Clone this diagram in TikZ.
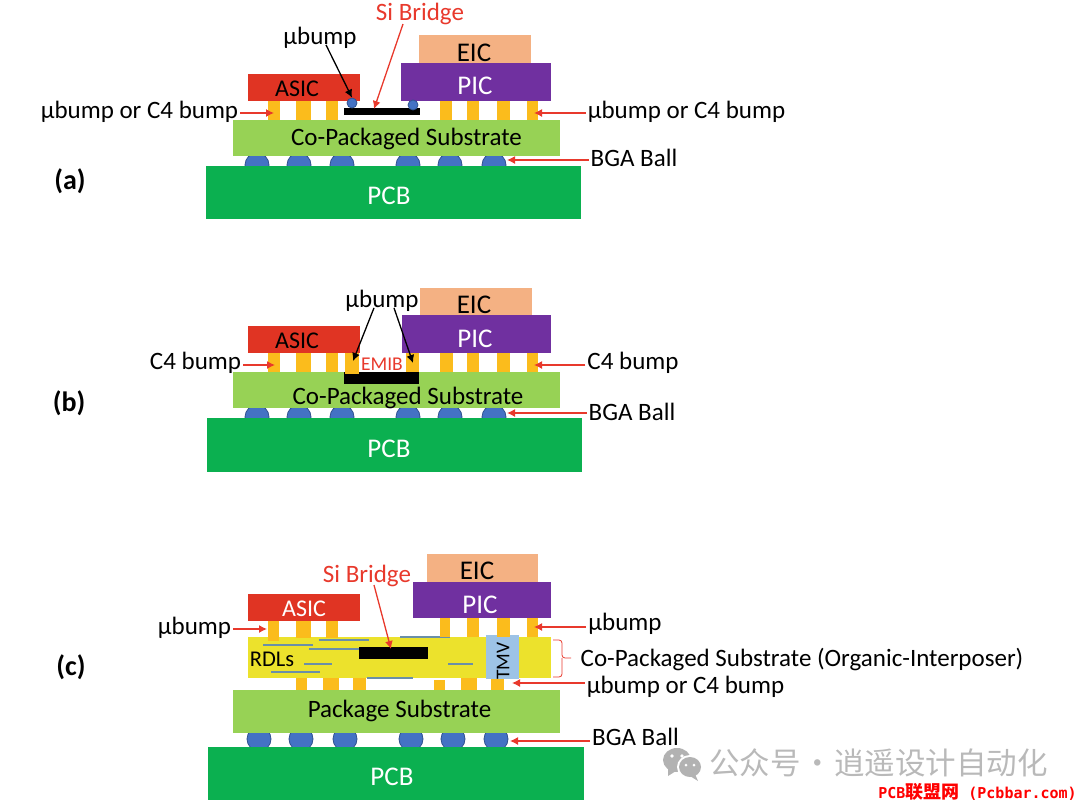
\documentclass[tikz,border=0pt]{standalone}
\usepackage{fontspec}
\usepackage{xcolor}
\usepackage{tikz}
\usetikzlibrary{arrows.meta, positioning}
\setmainfont{Carlito}
\newfontfamily\cjk{Noto Sans CJK SC}
\newfontfamily\wmmono{DejaVu Sans Mono}
\definecolor{asicred}{HTML}{E03423}
\definecolor{picpurple}{HTML}{7030A0}
\definecolor{eicpeach}{HTML}{F4B183}
\definecolor{subgreen}{HTML}{97D255}
\definecolor{pcbgreen}{HTML}{0BB050}
\definecolor{bumpgold}{HTML}{FBBC1C}
\definecolor{ballblue}{HTML}{4472C4}
\definecolor{balledge}{HTML}{2F528F}
\definecolor{rdlyellow}{HTML}{ECE22C}
\definecolor{tmvblue}{HTML}{9DC3E6}
\definecolor{rdlline}{HTML}{6A8FA8}
\definecolor{labelred}{HTML}{E8392C}

\begin{document}
\begin{tikzpicture}[
        x=1pt, y=-1pt,
        layer/.style={rectangle, inner sep=0pt},
        bumpbar/.style={rectangle, inner sep=0pt, fill=bumpgold, minimum height=#1},
        ball/.style={circle, inner sep=0pt, minimum size=24, fill=ballblue, draw=balledge, line width=0.8pt},
        microball/.style={circle, inner sep=0pt, minimum size=10, fill=ballblue, draw=balledge, line width=0.8pt},
        lbl/.style={inner sep=2pt, yshift=-2pt, font=\fontsize{25}{30}\selectfont},
        redlbl/.style={lbl, text=labelred},
        chiplbl/.style={lbl, font=\fontsize{27}{32}\selectfont},
        asiclbl/.style={lbl, font=\fontsize{24}{29}\selectfont},
        smalllbl/.style={lbl, font=\fontsize{19.5}{23}\selectfont, inner sep=0pt},
        panel/.style={inner sep=0pt, font=\fontsize{28}{32}\selectfont\bfseries},
        redarrow/.style={-{Latex[length=8pt,width=8pt]}, labelred, line width=1.3pt},
        blackarrow/.style={-{Latex[length=8pt,width=8pt]}, black, line width=1.3pt},
        rdl/.style={rdlline, line width=1.1pt}
    ]
    \useasboundingbox (0,0) rectangle (1080,806);

    % Panel (a)
    \foreach \n/\x in {1/257, 2/299, 3/342, 4/408, 5/450, 6/494}
        \node[ball] (ballA\n) at (\x,165) {};
    \node[layer, fill=pcbgreen, minimum width=375, minimum height=53] (pcbA) at (393.5,192.5) {};
    \node[layer, fill=subgreen, minimum width=327, minimum height=36] (subA) at (396.5,138) {};
    \foreach \n/\x/\w in {1/274/12, 2/303.5/15, 3/332/12, 4/446/12, 5/473/12, 6/503.5/13, 7/532.5/11}
        \node[bumpbar=19, minimum width=\w] (bumpA\n) at (\x,110.5) {};
    \node[layer, fill=asicred, minimum width=112, minimum height=27] (asicA) at (304,87.5) {};
    \node[layer, fill=picpurple, minimum width=150, minimum height=38] (picA) at (476,82) {};
    \node[layer, fill=eicpeach, minimum width=112, minimum height=28] (eicA) at (475,49) {};
    \node[layer, fill=black, minimum width=76, minimum height=7] (bridgeA) at (382,111.5) {};
    \node[microball] (ubumpA1) at (352,103) {};
    \node[microball] (ubumpA2) at (413,105) {};
    \node[asiclbl] (asicTextA) at (297,87) {ASIC};
    \node[chiplbl, text=white] (picTextA) at (475,84) {PIC};
    \node[chiplbl] (eicTextA) at (474,51) {EIC};
    \node[chiplbl, text=white] (pcbTextA) at (389,194) {PCB};
    \node[lbl] (subTextA) at (406.5,137) {Co-Packaged Substrate};
    \node[panel] (tagA) at (70,181) {(a)};
    \node[redlbl] (siA) at (420,12) {Si Bridge};
    \node[lbl] (ubumpLblA) at (320,36) {µbump};
    \node[lbl] (orLeftA) at (139.5,110) {µbump or C4 bump};
    \node[lbl] (orRightA) at (686.5,110) {µbump or C4 bump};
    \node[lbl] (bgaA) at (634,155.5) {BGA Ball};
    \coordinate (tipA1) at (274,113);
    \coordinate (tipA2) at (534,113);
    \coordinate (tipA3) at (507,160);
    \coordinate (tipA4) at (374,109);
    \draw[redarrow] (orLeftA.east |- tipA1) -- (tipA1);
    \draw[redarrow] (orRightA.west |- tipA2) -- (tipA2);
    \draw[redarrow] (bgaA.west |- tipA3) -- (tipA3);
    \draw[redarrow] (siA.south) ++(-17,-3) -- (tipA4);
    \draw[blackarrow] (ubumpLblA.south) ++(6,-6) -- (ubumpA1.north);

    % Panel (b)
    \foreach \n/\x in {1/257, 2/299, 3/342, 4/408, 5/450, 6/494}
        \node[ball] (ballB\n) at (\x,417) {};
    \node[layer, fill=pcbgreen, minimum width=375, minimum height=54] (pcbB) at (394,445) {};
    \node[layer, fill=subgreen, minimum width=327, minimum height=36] (subB) at (396.5,390) {};
    \foreach \n/\x/\w in {1/274/12, 2/303.5/15, 3/332/12, 4/446/13, 5/473/12, 6/503.5/13, 7/532.5/11}
        \node[bumpbar=19, minimum width=\w] (bumpB\n) at (\x,362.5) {};
    \node[layer, fill=black, minimum width=75, minimum height=12] (emibB) at (381.5,378) {};
    \node[bumpbar=22, minimum width=14] (ubumpB1) at (352,363) {};
    \node[bumpbar=19, minimum width=13] (ubumpB2) at (412.5,362.5) {};
    \node[layer, fill=asicred, minimum width=112, minimum height=27] (asicB) at (304,339.5) {};
    \node[layer, fill=picpurple, minimum width=149, minimum height=38] (picB) at (476.5,334) {};
    \node[layer, fill=eicpeach, minimum width=112, minimum height=27] (eicB) at (476,301.5) {};
    \node[asiclbl] (asicTextB) at (297,339) {ASIC};
    \node[chiplbl, text=white] (picTextB) at (475,337) {PIC};
    \node[chiplbl] (eicTextB) at (474,303) {EIC};
    \node[chiplbl, text=white] (pcbTextB) at (389,447) {PCB};
    \node[lbl] (subTextB) at (408,396) {Co-Packaged Substrate};
    \node[panel] (tagB) at (69,403) {(b)};
    \node[smalllbl, text=labelred] (emibLblB) at (382,362) {EMIB};
    \node[lbl] (ubumpLblB) at (382,299) {µbump};
    \node[lbl] (c4LeftB) at (195.5,361) {C4 bump};
    \node[lbl] (c4RightB) at (633,361) {C4 bump};
    \node[lbl] (bgaB) at (632,410) {BGA Ball};
    \coordinate (tipB1) at (275,365);
    \coordinate (tipB2) at (534,365);
    \coordinate (tipB3) at (507,413);
    \coordinate (tipB4) at (353,361);
    \coordinate (tipB5) at (413,363);
    \draw[redarrow] (c4LeftB.east |- tipB1) -- (tipB1);
    \draw[redarrow] (c4RightB.west |- tipB2) -- (tipB2);
    \draw[redarrow] (bgaB.west |- tipB3) -- (tipB3);
    \draw[blackarrow] (ubumpLblB.south) ++(-8,-6) -- (tipB4);
    \draw[blackarrow] (ubumpLblB.south) ++(12,-6) -- (tipB5);

    % Panel (c)
    \foreach \n/\x in {1/259, 2/301, 3/345, 4/411, 5/453, 6/496}
        \node[ball] (ballC\n) at (\x,739) {};
    \node[layer, fill=pcbgreen, minimum width=376, minimum height=53] (pcbC) at (396,773.5) {};
    \node[layer, fill=subgreen, minimum width=327, minimum height=43] (subC) at (396.5,711.5) {};
    \foreach \n/\x/\w/\y/\h in {1/301.5/11/683.5/13, 2/331/16/682.5/15, 3/359.5/13/682.5/15, 4/439.5/11/685/10, 5/469/16/683.5/13, 6/497.5/13/684/12}
        \node[bumpbar=\h, minimum width=\w] (lowC\n) at (\x,\y) {};
    \node[layer, fill=rdlyellow, minimum width=303, minimum height=41] (rdlC) at (399.5,657.5) {};
    \node[lbl, font=\fontsize{22.5}{27}\selectfont] (rdlLblC) at (272,657) {RDLs};
    \draw[rdl] (263,645) -- (313,645);
    \draw[rdl] (319,640) -- (369,640);
    \draw[rdl] (309,649) -- (359,649);
    \draw[rdl] (400,637) -- (450,637);
    \draw[rdl] (304,664) -- (332,664);
    \draw[rdl] (271,672) -- (320,672);
    \draw[rdl] (448,664) -- (473,664);
    \draw[rdl] (367,678) -- (413,678);
    \node[layer, fill=black, minimum width=69, minimum height=12] (bridgeC) at (393.5,653) {};
    \node[layer, fill=tmvblue, minimum width=33, minimum height=44] (tmvC) at (502.5,657) {};
    \node[smalllbl, rotate=90] (tmvLblC) at (503,659) {TMV};
    \foreach \n/\x/\w/\y/\h in {1/273.5/11/631/20, 2/303.5/15/629.5/17, 3/332/12/629.5/17, 4/445/10/627.5/19, 5/473/12/627.5/19, 6/503.5/13/627.5/19, 7/532.5/11/627.5/19}
        \node[bumpbar=\h, minimum width=\w] (topC\n) at (\x,\y) {};
    \node[layer, fill=asicred, minimum width=112, minimum height=27] (asicC) at (304,607.5) {};
    \node[layer, fill=picpurple, minimum width=138, minimum height=36] (picC) at (482,600) {};
    \node[layer, fill=eicpeach, minimum width=111, minimum height=28] (eicC) at (482.5,568) {};
    \node[asiclbl, text=white] (asicTextC) at (304,607) {ASIC};
    \node[chiplbl, text=white] (picTextC) at (480,603) {PIC};
    \node[chiplbl] (eicTextC) at (477,569) {EIC};
    \node[chiplbl, text=white] (pcbTextC) at (392,775) {PCB};
    \node[lbl] (pkgTextC) at (399.5,709) {Package Substrate};
    \node[panel] (tagC) at (71,667) {(c)};
    \node[redlbl] (siC) at (367,574) {Si Bridge};
    \node[lbl] (ubumpLeftC) at (194.5,626) {µbump};
    \node[lbl] (ubumpRightC) at (625,622) {µbump};
    \node[lbl] (orC) at (685.5,685) {µbump or C4 bump};
    \node[lbl] (interC) at (802,657) {Co-Packaged Substrate (Organic-Interposer)};
    \node[lbl] (bgaC) at (635.5,735) {BGA Ball};
    \coordinate (tipC1) at (267,629);
    \coordinate (tipC2) at (534,627);
    \coordinate (tipC3) at (512,683);
    \coordinate (tipC4) at (510,741);
    \coordinate (tipC5) at (391,649);
    \draw[redarrow] (ubumpLeftC.east |- tipC1) -- (tipC1);
    \draw[redarrow] (ubumpRightC.west |- tipC2) -- (tipC2);
    \draw[redarrow] (orC.west |- tipC3) -- (tipC3);
    \draw[redarrow] (bgaC.west |- tipC4) -- (tipC4);
    \draw[redarrow] (siC.south) ++(7,-4) -- (tipC5);
    \draw[labelred, line width=0.8pt, rounded corners=3pt] (553,640) -- (562,640) -- (562,658) -- (571,658);
    \draw[labelred, line width=0.8pt, rounded corners=3pt] (553,677) -- (562,677) -- (562,658);

    % Watermark
    \fill[gray!60] (677,760) ellipse (14 and 12);
    \fill[gray!60] (668,768) -- (668,776) -- (676,771) -- cycle;
    \fill[white] (690,767) ellipse (13 and 12);
    \fill[gray!60] (690,767) ellipse (11 and 10);
    \fill[gray!60] (695,774) -- (698,781) -- (690,776) -- cycle;
    \fill[white] (672,756) circle (1.8) (682,756) circle (1.8) (686,765) circle (1.5) (694,765) circle (1.5);
    \node[inner sep=0pt, text=gray!55, font=\fontsize{30.5}{34}\selectfont\cjk] (markC) at (878.5,763) {公众号\hspace{-5.5pt} · \hspace{-5.5pt}逍遥设计自动化};
    \node[inner sep=0pt, text=red, font=\fontsize{15}{18}\selectfont\bfseries\wmmono] (siteC) at (977.5,792) {PCB{\cjk\fontsize{18}{18}\selectfont 联盟网} (Pcbbar.com)};
    \end{tikzpicture}
\end{document}
